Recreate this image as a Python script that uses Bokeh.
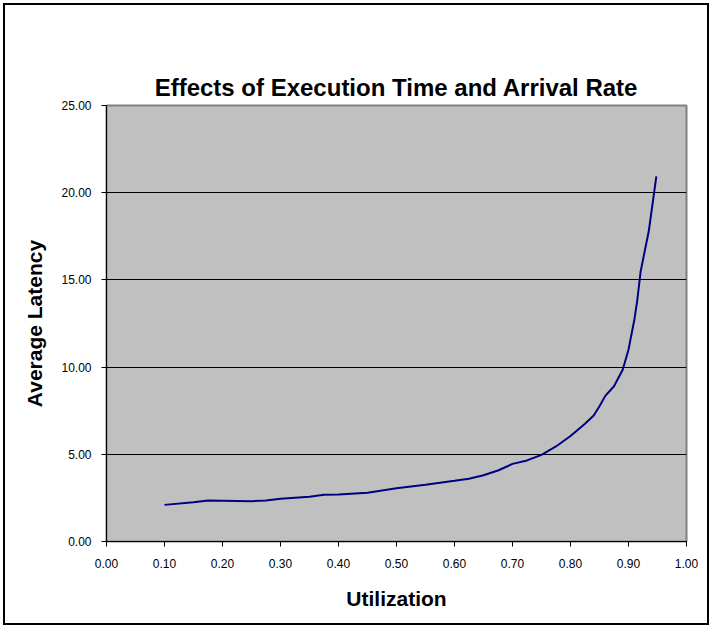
from bokeh.plotting import figure
from bokeh.models import FixedTicker, NumeralTickFormatter, Range1d, LinearAxis
from bokeh.embed import file_html
from bokeh.resources import INLINE

utilization = [0.10, 0.15, 0.175, 0.25, 0.275, 0.30, 0.35, 0.375, 0.40, 0.45,
               0.50, 0.55, 0.60, 0.625, 0.65, 0.675, 0.70, 0.725, 0.75, 0.775,
               0.80, 0.825, 0.84, 0.85, 0.86, 0.875, 0.89, 0.90, 0.91, 0.915,
               0.921, 0.935, 0.948]
latency = [2.10, 2.25, 2.35, 2.31, 2.35, 2.45, 2.57, 2.68, 2.69, 2.80,
           3.05, 3.25, 3.48, 3.60, 3.80, 4.07, 4.45, 4.65, 4.97, 5.45,
           6.05, 6.75, 7.22, 7.75, 8.35, 8.90, 9.85, 11.0, 12.7, 13.8,
           15.5, 17.8, 20.93]

x_ticks = [0.0, 0.1, 0.2, 0.3, 0.4, 0.5, 0.6, 0.7, 0.8, 0.9, 1.0]
y_ticks = [0, 5, 10, 15, 20, 25]

title_text = "Effects of Execution Time and Arrival Rate"
x_label = "Utilization"
y_label = "Average Latency"

p = figure(width=706, height=622, output_backend="svg", toolbar_location=None,
           x_range=Range1d(0, 1), y_range=Range1d(0, 25),
           min_border_left=101, min_border_right=25, min_border_top=100,
           min_border_bottom=86, title=title_text)
p.styles = {"border": "2px solid black", "box-sizing": "border-box",
            "margin": "3px"}

p.title.align = "center"
p.title.standoff = 10
p.title.text_font = "Liberation Sans"
p.title.text_font_size = "24px"
p.title.text_font_style = "bold"
p.title.text_color = "black"

# tick-less axis used only as a spacer between frame and title
spacer = LinearAxis(ticker=FixedTicker(ticks=[]), major_tick_out=50,
                    major_tick_in=0, axis_line_color=None,
                    major_tick_line_color="white", minor_tick_line_color=None,
                    major_label_text_alpha=0)
p.add_layout(spacer, "above")

p.background_fill_color = "#c0c0c0"
p.border_fill_color = "white"
p.outline_line_color = "#808080"
p.outline_line_width = 2

p.line(utilization, latency, line_color="#000080", line_width=2)

xa = p.below[0]
ya = p.left[0]
for ax in (xa, ya):
    ax.axis_line_color = "black"
    ax.major_tick_line_color = "black"
    ax.major_tick_in = 0
    ax.major_tick_out = 5
    ax.minor_tick_line_color = None
    ax.major_label_text_font = "Liberation Sans"
    ax.major_label_text_font_size = "12px"
    ax.major_label_text_color = "black"
    ax.axis_label_text_font = "Liberation Sans"
    ax.axis_label_text_font_size = "21px"
    ax.axis_label_text_font_style = "bold"
    ax.axis_label_text_color = "black"

xa.ticker = FixedTicker(ticks=x_ticks)
ya.ticker = FixedTicker(ticks=y_ticks)
xa.formatter = NumeralTickFormatter(format="0.00")
ya.formatter = NumeralTickFormatter(format="0.00")
xa.axis_label = x_label
ya.axis_label = y_label
xa.major_label_standoff = 12
ya.major_label_standoff = 10
xa.axis_label_standoff = 16
ya.axis_label_standoff = 12

p.xgrid.grid_line_color = None
p.ygrid.grid_line_color = "black"
p.ygrid.grid_line_width = 1
p.ygrid.ticker = FixedTicker(ticks=y_ticks)

open("out.html", "w").write(file_html(p, INLINE))
